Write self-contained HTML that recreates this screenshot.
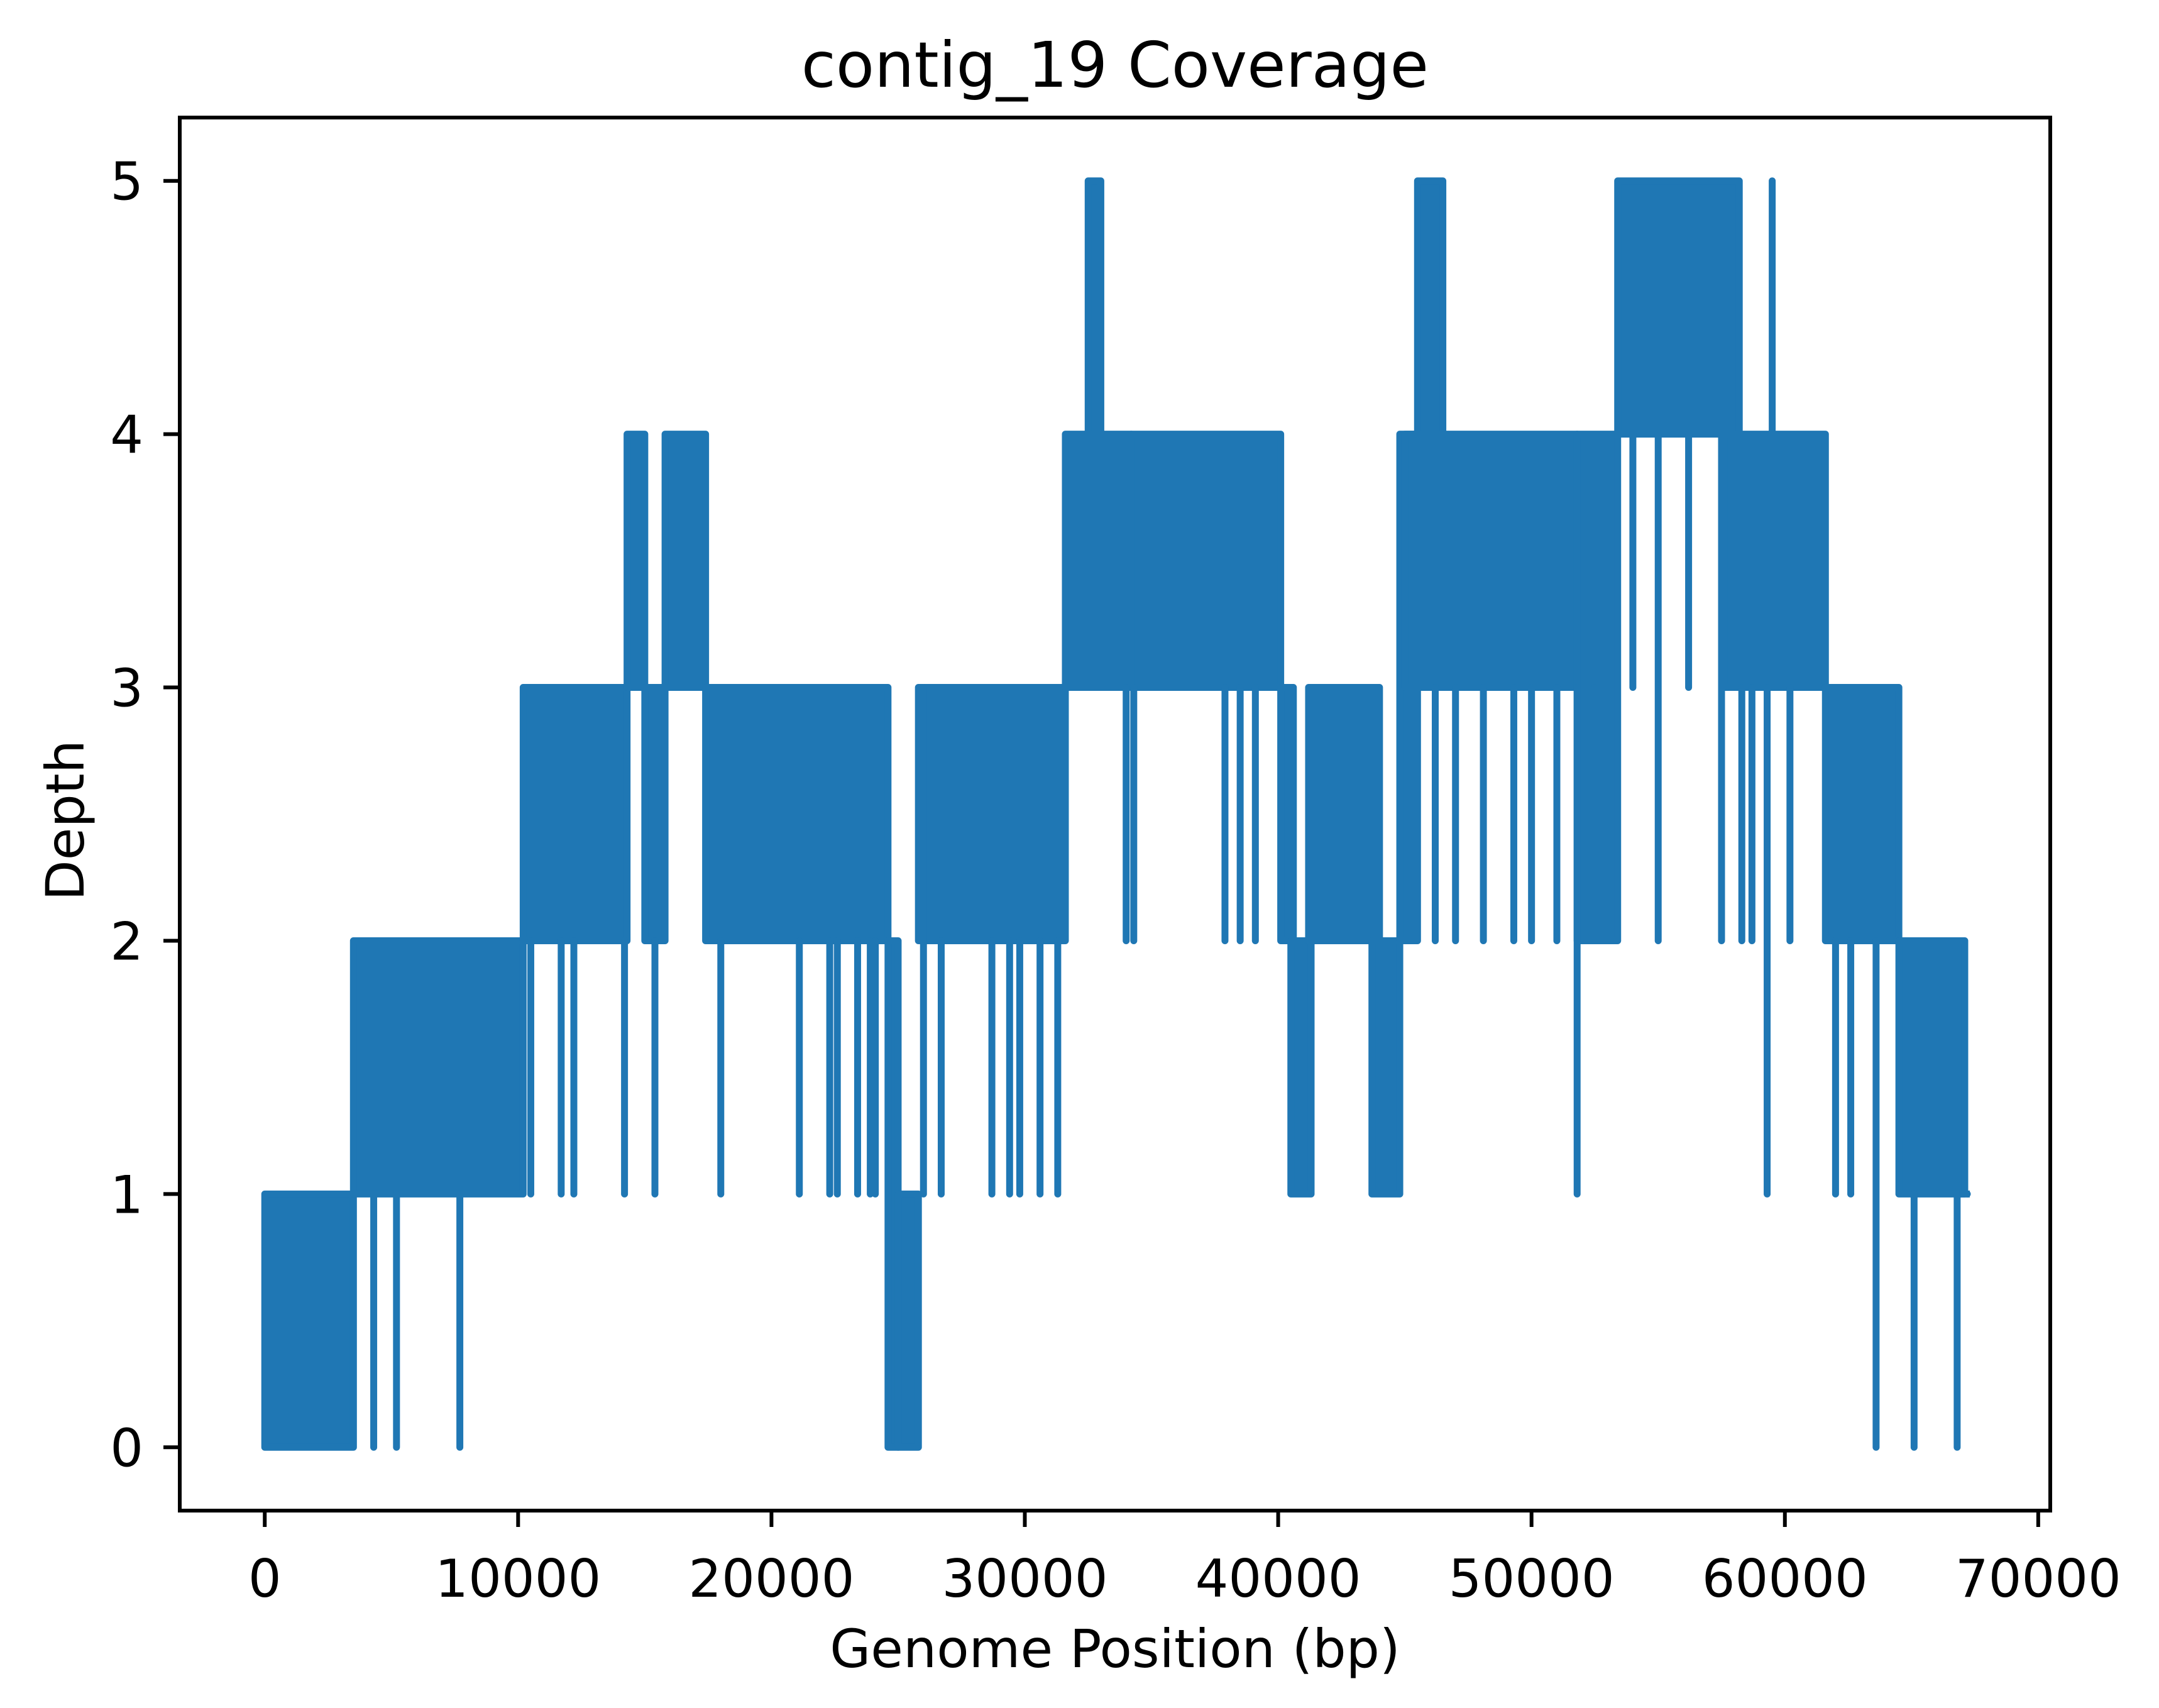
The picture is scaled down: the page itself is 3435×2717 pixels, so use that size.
<!DOCTYPE html>
<html><head><meta charset="utf-8">
<style>
html,body{margin:0;padding:0;background:#fff;}
svg{display:block;}
text{font-family:"DejaVu Sans","Liberation Sans",sans-serif;fill:#000;}
</style></head>
<body>
<svg id="chart" width="3435" height="2717" viewBox="0 0 3435 2717" xmlns="http://www.w3.org/2000/svg">
<rect width="3435" height="2717" fill="#fff"/>
<g id="plot"></g>
<g id="axes"></g>
</svg>
<script>
// Block regions: start bp, end bp, low depth, high depth
const blockStart = [0,3500,10200,14300,15000,15800,17400,24600,25000,25800,31600,32500,34200,40100,40500,41200,43700,44800,45000,45500,51800,53400,57600,61600,64500];
const blockEnd   = [3500,10200,14300,15000,15800,17400,24600,25000,25800,31600,34200,33000,40100,40600,41300,44000,44800,45500,51800,46500,53400,58200,61600,64500,67100];
const blockLow   = [0,1,2,3,2,3,2,0,0,2,3,4,3,2,1,2,1,2,3,4,2,4,3,2,1];
const blockHigh  = [1,2,3,4,3,4,3,2,1,3,4,5,4,3,2,3,2,4,4,5,4,5,4,3,2];
// Spikes: position bp, from depth, to depth
const spikePos  = [4300,5200,7700,10500,11700,12200,14200,15400,18000,21100,22300,22600,23400,23900,24100,26000,26700,28700,29400,29800,30600,31300,34000,34300,37900,38500,39100,46200,47000,48100,49300,50000,51000,51800,52500,54000,55000,56200,57500,58300,58700,59300,59500,60200,62000,62600,63600,65100,66800,67200];
const spikeFrom = [1,1,1,2,2,2,2,2,2,2,2,2,2,2,2,1,2,2,2,2,2,2,3,3,3,3,3,3,3,3,3,3,3,3,2,4,4,4,4,3,3,3,3,3,2,2,2,1,1,1];
const spikeTo   = [0,0,0,1,1,1,1,1,1,1,1,1,1,1,1,3,1,1,1,1,1,1,2,2,2,2,2,2,2,2,2,2,2,1,3,3,2,3,2,2,2,1,5,2,1,1,0,0,0,1];
const xTicks = [0,10000,20000,30000,40000,50000,60000,70000];
const yTicks = [0,1,2,3,4,5];

const X0=286,X1=3262,Y0=187,Y1=2403;
const xmin=-3355, xmax=70475, ymin=-0.25, ymax=5.25;
function xs(v){return X0+(v-xmin)/(xmax-xmin)*(X1-X0);}
function ys(v){return Y1-(v-ymin)/(ymax-ymin)*(Y1-Y0);}
const NS="http://www.w3.org/2000/svg";
const plot=document.getElementById('plot');
const axes=document.getElementById('axes');
const C="#1f77b4", LW=11;

for(let i=0;i<blockStart.length;i++){
  const p=document.createElementNS(NS,'path');
  const a=xs(blockStart[i]),b=xs(blockEnd[i]),t=ys(blockHigh[i]),u=ys(blockLow[i]);
  p.setAttribute('d',`M${a},${u}L${a},${t}L${b},${t}L${b},${u}Z`);
  p.setAttribute('fill',C);p.setAttribute('stroke',C);
  p.setAttribute('stroke-width',LW);p.setAttribute('stroke-linejoin','round');
  
  
  plot.appendChild(p);
}
for(let i=0;i<spikePos.length;i++){
  const l=document.createElementNS(NS,'line');
  const x=xs(spikePos[i]);
  l.setAttribute('x1',x);l.setAttribute('x2',x);
  l.setAttribute('y1',ys(spikeFrom[i]));l.setAttribute('y2',ys(spikeTo[i]));
  l.setAttribute('stroke',C);l.setAttribute('stroke-width',LW);l.setAttribute('stroke-linecap','round');
  
  
  plot.appendChild(l);
}
{
  const l=document.createElementNS(NS,'line');
  l.setAttribute('x1',xs(66900));l.setAttribute('x2',xs(67300));
  l.setAttribute('y1',ys(1));l.setAttribute('y2',ys(1));
  l.setAttribute('stroke',C);l.setAttribute('stroke-width',LW);
  
  
  plot.appendChild(l);
}
const fr=document.createElementNS(NS,'rect');
fr.setAttribute('x',X0);fr.setAttribute('y',Y0);fr.setAttribute('width',X1-X0);fr.setAttribute('height',Y1-Y0);
fr.setAttribute('fill','none');fr.setAttribute('stroke','#000');fr.setAttribute('stroke-width',6);


axes.appendChild(fr);
function txt(s,x,y,anchor,size,name){
  const t=document.createElementNS(NS,'text');
  t.setAttribute('x',x);t.setAttribute('y',y);t.setAttribute('text-anchor',anchor);t.setAttribute('font-size',size);
  t.textContent=s;
  
  
  axes.appendChild(t);return t;
}
xTicks.forEach(v=>{
  const l=document.createElementNS(NS,'line');
  l.setAttribute('x1',xs(v));l.setAttribute('x2',xs(v));l.setAttribute('y1',Y1);l.setAttribute('y2',Y1+26);
  l.setAttribute('stroke','#000');l.setAttribute('stroke-width',6);
  
  
  axes.appendChild(l);
  txt(String(v),xs(v),2540,'middle',83,'x-tick-label');
});
yTicks.forEach(v=>{
  const l=document.createElementNS(NS,'line');
  l.setAttribute('x1',X0-26);l.setAttribute('x2',X0);l.setAttribute('y1',ys(v));l.setAttribute('y2',ys(v));
  l.setAttribute('stroke','#000');l.setAttribute('stroke-width',6);
  
  
  axes.appendChild(l);
  txt(String(v),228,ys(v)+30,'end',83,'y-tick-label');
});
txt('contig_19 Coverage',1774,138,'middle',100,'chart-title');
txt('Genome Position (bp)',1774,2652,'middle',84,'x-axis-title');
const yl=txt('Depth',0,0,'middle',84,'y-axis-title');
yl.setAttribute('transform','translate(133,1305) rotate(-90)');
</script>
</body></html>
